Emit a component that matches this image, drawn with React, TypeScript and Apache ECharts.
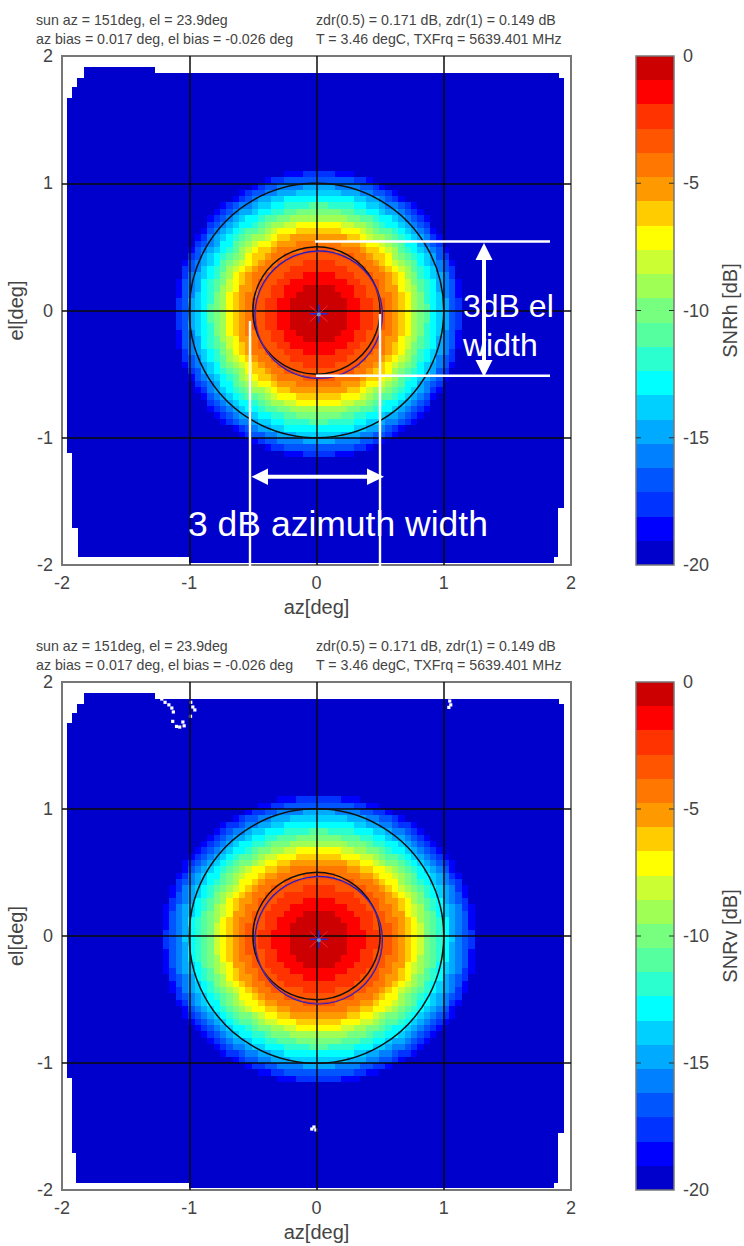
import React, { useEffect, useRef } from "react";
import * as echarts from "echarts";

const FONT = "Liberation Sans";
const TEXT = "#444";

const levelColors = [
  "#cc0000", "#ff0000", "#ff3300", "#ff5500", "#ff7700", "#ff9900", "#ffcc00", "#ffff00", "#ccff33", "#a0ff55", "#77ff80",
  "#55ffa0", "#2bffd0", "#00ffff", "#00d0ff", "#00aaff", "#0080ff", "#0055ff", "#0033ff", "#0000ff", "#0000cc",
];
const cellSize = 0.05;
const backgroundLevel = 20;
const colorbarTicks = [-5, -10, -15];

// One string per row away from boresight, one letter per cell away from boresight; a = 0 dB band, t = darkest band above the floor.
const snrhQuadrant = [
  "aaaaabbccddefghjklnoprs",
  "aaaaabbccddefghjklnoprs",
  "aaaaabbccddefghjkmnoprs",
  "aaaabbccddeefghjkmnoqrt",
  "aaabbbccddeffhijlmnpqrt",
  "bbbbbccdddefghiklmnpqrt",
  "bbbcccdddeefghjkmnopqs",
  "cccccdddeefghijlmnoqrs",
  "cccddddeefghijklnopqrt",
  "ddddddeefgghjklmnoprs",
  "dddeeeefgghijlmnopqrt",
  "eeeefffghhijklnnpqrs",
  "fffffgghijjklmnopqst",
  "gggghhhijkllmnopqrt",
  "hhhhiijjklmnnopqrs",
  "jjjjjkkllmnnopqrst",
  "kkkkllmmnnoppqrst",
  "llmmmmnnoopqqrst",
  "nnnnnnooppqrst",
  "oooopppqqrrst",
  "pppqqqqrrst",
  "rrrrrrsst",
  "sssttt",
];
const snrvQuadrant = [
  "aaaaabbbccddefghiklmnoqrs",
  "aaaaabbbccddefghiklmnpqrs",
  "aaaaabbccdddefghiklmnpqrt",
  "aaaabbbccddeefghjklmnpqrt",
  "aaabbbcccddeffhijklnopqrt",
  "bbbbbcccddeefghijlmnopqst",
  "bbbccccdddeffghjklmnpqrs",
  "ccccccdddeefghijkmnopqrt",
  "cccdddddeefghijklmnopqst",
  "ddddddeeefghhjklmnopqrs",
  "dddeeeeffghhijklnnopqst",
  "eeeeeffgghhijklmnopqrt",
  "fffffgghhijkklmnopqrst",
  "gggghhhiijkllmnopqrst",
  "hhhhiijjkklmnnopqrst",
  "jjjjjkkklmmnnopqrst",
  "kkkklllmmnnoppqrst",
  "llmmmmnnnoopqqrst",
  "nnnnnnooppqqrsst",
  "ooooopppqqrrst",
  "pppqqqqrrsst",
  "rrrrrrsstt",
  "ssssttt",
];

// Scan coverage: [az left, az right, el top, el bottom]
const snrhCoverage = [
  [-1.83, -1.27, 1.91, 1.87],
  [-1.83, 1.905, 1.87, 1.83],
  [-1.88, 1.945, 1.83, 1.755],
  [-1.92, 1.945, 1.755, 1.67],
  [-1.957, 1.945, 1.67, -1.12],
  [-1.92, 1.945, -1.12, -1.55],
  [-1.92, 1.9, -1.55, -1.71],
  [-1.875, 1.9, -1.71, -1.94],
  [-1.0, 1.865, -1.94, -1.985],
];
const snrvCoverage = [
  [-1.83, -1.27, 1.91, 1.87],
  [-1.83, 1.905, 1.87, 1.83],
  [-1.88, 1.945, 1.83, 1.755],
  [-1.92, 1.945, 1.755, 1.68],
  [-1.957, 1.945, 1.68, -1.12],
  [-1.92, 1.945, -1.12, -1.55],
  [-1.92, 1.9, -1.55, -1.71],
  [-1.89, 1.9, -1.71, -1.945],
  [-1.0, 1.865, -1.945, -1.985],
];
// Missing gates in the SNRv scan: [az, el]
const snrvGaps = [
  [-1.216, 1.866], [-1.19, 1.84], [-1.16, 1.82], [-1.137, 1.795], [-1.125, 1.764], [-1.13, 1.69], [-1.1, 1.65], [-1.075, 1.645],
  [-1.05, 1.685], [-1.04, 1.655], [-0.972, 1.803], [-0.956, 1.78], [-0.988, 1.84], [-0.99, 1.73],
  [1.047, 1.85], [1.055, 1.82], [1.04, 1.8], [-0.02, -1.504], [-0.005, -1.527], [-0.037, -1.52],
];

const referenceRadii = [0.5, 1];
const beamCentre = [0.017, -0.026];
const beamFitRadius = 0.5;
const infoLeft = ["sun az = 151deg, el = 23.9deg", "az bias = 0.017 deg, el bias = -0.026 deg"];
const infoRight = ["zdr(0.5) = 0.171 dB, zdr(1) = 0.149 dB", "T = 3.46 degC, TXFrq = 5639.401 MHz"];

function cellsFrom(rows: string[]) {
  const out: number[][] = [];
  rows.forEach((row, dy) => {
    [...row].forEach((ch, dx) => {
      const level = ch.charCodeAt(0) - 97;
      const xs = dx === 0 ? [0] : [dx, -dx];
      const ys = dy === 0 ? [0] : [dy, -dy];
      xs.forEach((x) => ys.forEach((y) => out.push([beamCentre[0] + x * cellSize, beamCentre[1] + y * cellSize, level])));
    });
  });
  return out;
}

function snapRect(a: number[], b: number[]) {
  const x0 = Math.round(Math.min(a[0], b[0]));
  const x1 = Math.round(Math.max(a[0], b[0]));
  const y0 = Math.round(Math.min(a[1], b[1]));
  const y1 = Math.round(Math.max(a[1], b[1]));
  return { x: x0, y: y0, width: x1 - x0, height: y1 - y0 };
}

function rectSeries(name: string, gridIdx: number, data: number[][], fill: string) {
  return {
    type: "custom", name, xAxisIndex: gridIdx, yAxisIndex: gridIdx, z: 2, silent: true,
    encode: { x: [0, 1], y: [2, 3] }, data,
    renderItem: (_: any, api: any) => ({
      type: "rect",
      shape: snapRect(api.coord([api.value(0), api.value(2)]), api.coord([api.value(1), api.value(3)])),
      style: { fill },
    }),
  };
}

function cellSeries(name: string, gridIdx: number, rows: string[]) {
  return {
    type: "custom", name, xAxisIndex: gridIdx, yAxisIndex: gridIdx, z: 3, silent: true,
    encode: { x: 0, y: 1 }, data: cellsFrom(rows),
    renderItem: (_: any, api: any) => {
      const x = api.value(0), y = api.value(1);
      const half = cellSize / 2;
      return {
        type: "rect",
        shape: snapRect(api.coord([x - half, y - half]), api.coord([x + half, y + half])),
        style: { fill: levelColors[api.value(2)] },
      };
    },
  };
}

function gapSeries(gridIdx: number, data: number[][]) {
  return {
    type: "custom", name: "gaps", xAxisIndex: gridIdx, yAxisIndex: gridIdx, z: 4, silent: true,
    encode: { x: 0, y: 1 }, data,
    renderItem: (_: any, api: any) => {
      const c = api.coord([api.value(0), api.value(1)]);
      return { type: "rect", shape: { x: c[0] - 1.6, y: c[1] - 1.6, width: 3.2, height: 3.2 }, style: { fill: "#fff" } };
    },
  };
}

function circleSeries(gridIdx: number) {
  const data = [
    ...referenceRadii.map((r) => [0, 0, r, 0]),
    [beamCentre[0], beamCentre[1], beamFitRadius, 1],
    [beamCentre[0], beamCentre[1], beamFitRadius - 0.006, 2],
  ];
  const strokes = ["#111", "#2020c0", "#e03040"];
  const widths = [1.5, 1.5, 0.6];
  return {
    type: "custom", name: "circles", xAxisIndex: gridIdx, yAxisIndex: gridIdx, z: 7, silent: true,
    encode: { x: 0, y: 1 }, data,
    renderItem: (_: any, api: any) => {
      const c = api.coord([api.value(0), api.value(1)]);
      const r = api.size([api.value(2), 0])[0];
      const k = api.value(3);
      return { type: "circle", shape: { cx: c[0], cy: c[1], r }, style: { fill: "none", stroke: strokes[k], lineWidth: widths[k] } };
    },
  };
}

function markerSeries(gridIdx: number) {
  return {
    type: "custom", name: "centre", xAxisIndex: gridIdx, yAxisIndex: gridIdx, z: 8, silent: true,
    encode: { x: 0, y: 1 }, data: [beamCentre],
    renderItem: (_: any, api: any) => {
      const [x, y] = api.coord([api.value(0), api.value(1)]);
      const ln = (x1: number, y1: number, x2: number, y2: number, stroke: string, lineWidth: number) => ({
        type: "line", shape: { x1, y1, x2, y2 }, style: { stroke, lineWidth },
      });
      return {
        type: "group",
        children: [
          ln(x - 9, y - 8, x + 9, y + 8, "#f04050", 0.7),
          ln(x - 9, y + 8, x + 9, y - 8, "#f04050", 0.7),
          ln(x - 9, y, x + 9, y, "#2a2ad0", 1.6),
          ln(x, y - 9, x, y + 9, "#2a2ad0", 1.6),
          { type: "circle", shape: { cx: x, cy: y, r: 2 }, style: { fill: "#6a8fc0" } },
        ],
      };
    },
  };
}

function barSeries(gridIdx: number) {
  const bandStep = 20 / levelColors.length;
  return {
    type: "custom", name: "colorbar", xAxisIndex: gridIdx, yAxisIndex: gridIdx, z: 2, silent: true,
    encode: { y: [1, 2] },
    data: levelColors.map((_, i) => [i, -i * bandStep, -(i + 1) * bandStep]),
    renderItem: (_: any, api: any) => ({
      type: "rect",
      shape: snapRect(api.coord([0, api.value(1)]), api.coord([1, api.value(2)])),
      style: { fill: levelColors[api.value(0)] },
    }),
  };
}

function barFrameSeries(gridIdx: number) {
  return {
    type: "custom", name: "colorbar frame", xAxisIndex: gridIdx, yAxisIndex: gridIdx, z: 6, silent: true,
    encode: { y: 0 },
    data: [[-20, 0]],
    renderItem: (_: any, api: any) => {
      const a = api.coord([0, api.value(1)]);
      const b = api.coord([1, api.value(0)]);
      const ticks: any[] = [];
      colorbarTicks.forEach((t) => {
        const p = api.coord([0, t]);
        ticks.push({ type: "line", shape: { x1: a[0], y1: p[1], x2: a[0] + 5, y2: p[1] }, style: { stroke: "#333", lineWidth: 1 } });
        ticks.push({ type: "line", shape: { x1: b[0] - 5, y1: p[1], x2: b[0], y2: p[1] }, style: { stroke: "#333", lineWidth: 1 } });
      });
      return {
        type: "group",
        children: [
          { type: "rect", shape: { x: a[0], y: a[1], width: b[0] - a[0], height: b[1] - a[1] }, style: { fill: "none", stroke: "#777", lineWidth: 1.5 } },
          ...ticks,
        ],
      };
    },
  };
}

const labelStyle = { color: TEXT, fontFamily: FONT, fontSize: 18 };
const nameStyle = { color: TEXT, fontFamily: FONT, fontSize: 20 };

function mapAxes(gridIdx: number) {
  const common = {
    gridIndex: gridIdx, type: "value", min: -2, max: 2, interval: 1, z: 5,
    axisLine: { show: false }, axisTick: { show: false },
    axisLabel: { ...labelStyle, margin: 9 },
    splitLine: { show: true, showMinLine: false, showMaxLine: false, lineStyle: { color: "#0a0a0a", width: 1.5 } },
    nameLocation: "middle", nameTextStyle: nameStyle,
  };
  return {
    x: { ...common, name: "az[deg]", nameGap: 32 },
    y: { ...common, name: "el[deg]", nameGap: 11 },
  };
}

function barAxes(gridIdx: number, name: string) {
  return {
    x: { gridIndex: gridIdx, type: "value", min: 0, max: 1, show: false },
    y: {
      gridIndex: gridIdx, type: "value", min: -20, max: 0, interval: 5, position: "right", z: 5,
      axisLine: { show: false }, axisTick: { show: false }, splitLine: { show: false },
      axisLabel: { ...labelStyle, margin: 9 }, name, nameLocation: "middle", nameRotate: 90, nameGap: 46, nameTextStyle: nameStyle,
    },
  };
}

function infoText(x: number, y: number, lines: string[]) {
  return lines.map((text, i) => ({
    type: "text", x, y: y + i * 19, z: 20,
    style: { text, fill: TEXT, fontFamily: FONT, fontSize: 14.2, textVerticalAlign: "middle" },
  }));
}

const white = "#ffffff";
function whiteLine(x1: number, y1: number, x2: number, y2: number, lineWidth = 2.4) {
  return { type: "line", z: 20, shape: { x1, y1, x2, y2 }, style: { stroke: white, lineWidth } };
}
function whiteHead(points: number[][]) {
  return { type: "polygon", z: 20, shape: { points }, style: { fill: white } };
}
function whiteLabel(text: string, x: number, y: number, fontSize: number) {
  return { type: "text", z: 21, x, y, style: { text, fill: white, fontFamily: FONT, fontSize, textVerticalAlign: "middle" } };
}

export default function App() {
  const ref = useRef<HTMLDivElement>(null);
  useEffect(() => {
    document.body.style.margin = "0";
    const chart = echarts.init(ref.current!, undefined, { renderer: "svg" });
    const m0 = mapAxes(0), b1 = barAxes(1, "SNRh [dB]"), m2 = mapAxes(2), b3 = barAxes(3, "SNRv [dB]");
    const frame = { show: true, backgroundColor: "#fff", borderColor: "#777", borderWidth: 2 };
    const fixed = { outerBoundsMode: "none" };
    chart.setOption({
      animation: false,
      backgroundColor: "#fff",
      grid: [
        { ...fixed, ...frame, left: 62, width: 509, top: 56, height: 509 },
        { ...fixed, left: 636, width: 38, top: 56, height: 509 },
        { ...fixed, ...frame, left: 62, width: 509, top: 682, height: 508 },
        { ...fixed, left: 636, width: 38, top: 682, height: 508 },
      ],
      xAxis: [m0.x, b1.x, m2.x, b3.x],
      yAxis: [m0.y, b1.y, m2.y, b3.y],
      series: [
        rectSeries("SNRh floor", 0, snrhCoverage, levelColors[backgroundLevel]),
        cellSeries("SNRh", 0, snrhQuadrant),
        circleSeries(0),
        markerSeries(0),
        barSeries(1),
        barFrameSeries(1),
        rectSeries("SNRv floor", 2, snrvCoverage, levelColors[backgroundLevel]),
        cellSeries("SNRv", 2, snrvQuadrant),
        gapSeries(2, snrvGaps),
        circleSeries(2),
        markerSeries(2),
        barSeries(3),
        barFrameSeries(3),
      ],
      graphic: [
        ...infoText(36, 20, infoLeft),
        ...infoText(316, 20, infoRight),
        ...infoText(36, 646, infoLeft),
        ...infoText(316, 646, infoRight),
        whiteLine(315, 241.5, 550, 241.5),
        whiteLine(316, 375.7, 550, 375.7),
        whiteLine(250, 321, 250, 566),
        whiteLine(380, 314, 380, 566),
        whiteLine(266, 476.7, 368, 476.7, 4),
        whiteHead([[251.5, 476.7], [268, 468.5], [268, 485]]),
        whiteHead([[384, 476.7], [367, 468.5], [367, 485]]),
        whiteLine(484, 258, 484, 362, 4),
        whiteHead([[484, 243], [475.5, 260], [492.5, 260]]),
        whiteHead([[484, 377], [475.5, 360], [492.5, 360]]),
        whiteLabel("3dB el", 463, 306, 32),
        whiteLabel("width", 463, 345, 32),
        whiteLabel("3 dB azimuth width", 188, 524, 35.5),
      ],
    });
    return () => chart.dispose();
  }, []);
  return <div ref={ref} style={{ width: 744, height: 1246 }} />;
}
